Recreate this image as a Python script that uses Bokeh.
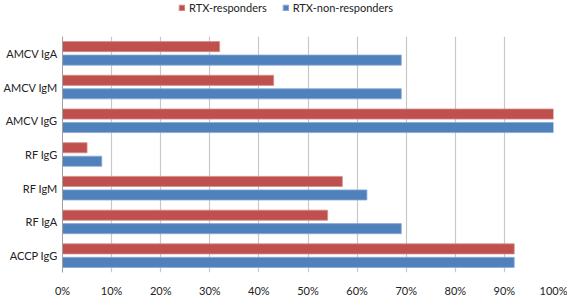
from bokeh.plotting import figure
from bokeh.layouts import column
from bokeh.models import FactorRange, Range1d, Legend, LegendItem, NumeralTickFormatter, ColumnDataSource, FixedTicker
from bokeh.transform import dodge
from bokeh.embed import file_html
from bokeh.resources import INLINE

categories = ["AMCV IgA", "AMCV IgM", "AMCV IgG", "RF IgG", "RF IgM", "RF IgA", "ACCP IgG"]
responders = [0.32, 0.43, 1.00, 0.05, 0.57, 0.54, 0.92]
non_responders = [0.69, 0.69, 1.00, 0.08, 0.62, 0.69, 0.92]
x_ticks = [0, 0.1, 0.2, 0.3, 0.4, 0.5, 0.6, 0.7, 0.8, 0.9, 1.0]
series_names = ["RTX-responders", "RTX-non-responders"]

RED = "#C0504D"
BLUE = "#4F81BD"
FONT = "Lato"
FS = "11px"

src = ColumnDataSource(dict(cat=categories, r=responders, n=non_responders))

p = figure(width=567, height=279, output_backend="svg", toolbar_location=None,
           y_range=FactorRange(factors=list(reversed(categories)), range_padding=0),
           x_range=Range1d(0, 1.0),
           min_border_left=60, min_border_right=14, min_border_top=16, min_border_bottom=25)

p.outline_line_color = None
p.background_fill_color = "white"
p.border_fill_color = "white"

r1 = p.hbar(y=dodge("cat", 0.2, range=p.y_range), right="r", left=0, height=0.30, source=src,
            fill_color=RED, line_color="#D08F8D", line_width=0.8)
r2 = p.hbar(y=dodge("cat", -0.2, range=p.y_range), right="n", left=0, height=0.30, source=src,
            fill_color=BLUE, line_color="#8AAAD6", line_width=0.8)

p.ygrid.grid_line_color = None
p.xgrid.grid_line_color = "#C8C8C8"
p.xgrid.grid_line_width = 1.2
p.xaxis.ticker = FixedTicker(ticks=x_ticks)
p.xaxis.formatter = NumeralTickFormatter(format="0%")
p.xaxis.axis_line_color = None
p.xaxis.major_tick_line_color = None
p.xaxis.minor_tick_line_color = None
p.xaxis.major_tick_out = 0
p.xaxis.major_tick_in = 0
p.xaxis.minor_tick_out = 0
p.xaxis.major_label_standoff = 11
p.xaxis.major_label_text_font = FONT
p.xaxis.major_label_text_font_size = FS
p.xaxis.major_label_text_color = "#222222"

p.yaxis.axis_line_color = "#A0A0A0"
p.yaxis.axis_line_width = 1
p.yaxis.major_tick_line_color = None
p.yaxis.minor_tick_line_color = None
p.yaxis.major_tick_out = 0
p.yaxis.major_tick_in = 0
p.yaxis.minor_tick_out = 0
p.yaxis.major_label_standoff = 5
p.yaxis.major_label_text_font = FONT
p.yaxis.major_label_text_font_size = FS
p.yaxis.major_label_text_color = "#222222"

# Legend strip above the chart
lf = figure(width=567, height=20, output_backend="svg", toolbar_location=None,
            x_range=Range1d(0, 1), y_range=Range1d(0, 1),
            min_border_left=60, min_border_right=14, min_border_top=0, min_border_bottom=0)
lf.axis.visible = False
lf.grid.visible = False
lf.outline_line_color = None
lf.border_fill_color = "white"
hidden = ColumnDataSource(dict(y=[-1000], right=[0.5]))
lr1 = lf.hbar(y="y", right="right", left=0, height=0.3, source=hidden, fill_color=RED, line_color="#D08F8D")
lr2 = lf.hbar(y="y", right="right", left=0, height=0.3, source=hidden, fill_color=BLUE, line_color="#8AAAD6")

legend = Legend(items=[LegendItem(label=series_names[0], renderers=[lr1]),
                       LegendItem(label=series_names[1], renderers=[lr2])],
                orientation="horizontal", location=(116, 6),
                padding=0, margin=0, spacing=15, label_standoff=4,
                glyph_width=7, glyph_height=7, label_height=12,
                label_text_font=FONT, label_text_font_size=FS, label_text_color="#222222",
                border_line_color=None, background_fill_alpha=0)
lf.add_layout(legend, "center")

layout = column(lf, p, spacing=0)
open("out.html", "w").write(file_html(layout, INLINE))
